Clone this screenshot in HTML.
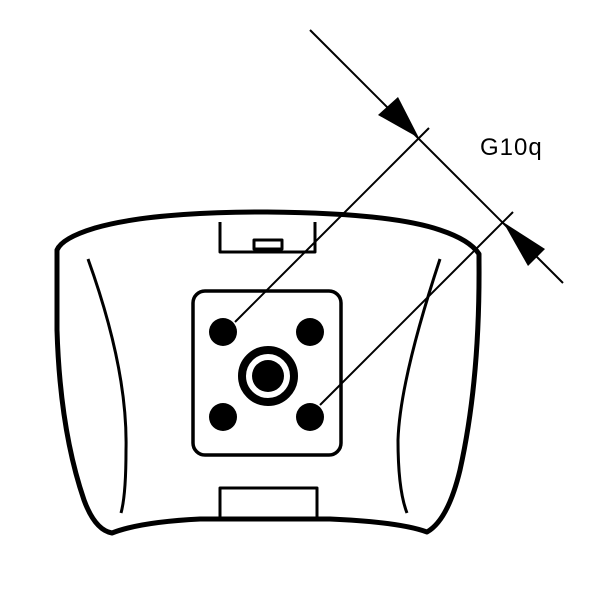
<!DOCTYPE html>
<html><head><style>html,body{margin:0;padding:0;background:#fff}svg{display:block}</style></head>
<body>
<svg width="600" height="600" viewBox="0 0 600 600" xmlns="http://www.w3.org/2000/svg">
<rect width="600" height="600" fill="#fff"/>
<g fill="none" stroke="#000" stroke-linejoin="round">
<path d="M57,250 Q62,238 95,228 Q150,212 267,212 Q390,213 440,230 Q470,240 479,254 L479,262 Q480,380 460,470 Q448,520 427,532 Q400,522 330,519 L200,519 Q140,522 112,533 Q95,530 84,500 Q60,430 57,330 Z" stroke-width="5"/>
<path d="M88,259 Q128,370 126,450 Q126,495 121,513" stroke-width="3"/>
<path d="M440,259 Q400,380 398,440 Q398,490 407,513" stroke-width="3"/>
<path d="M220,222 L220,252 L315,252 L315,222" stroke-width="3"/>
<rect x="254" y="240" width="28" height="9" stroke-width="3"/>
<path d="M220,520 L220,488 L317,488 L317,520" stroke-width="3"/>
<rect x="193" y="291" width="148" height="164" rx="12" stroke-width="3.5"/>
<circle cx="268" cy="376" r="26" stroke-width="8"/>
</g>
<g fill="#000">
<circle cx="223" cy="332" r="14"/><circle cx="310" cy="332" r="14"/>
<circle cx="223" cy="417" r="14"/><circle cx="310" cy="417" r="14"/>
<circle cx="268" cy="376" r="16"/>
</g>
<g stroke="#000" stroke-width="2">
<line x1="310" y1="30" x2="563" y2="283"/>
<line x1="429" y1="128" x2="235" y2="322"/>
<line x1="513" y1="212" x2="320" y2="405"/>
</g>
<polygon points="419,138 378,115 398,97" fill="#000"/>
<polygon points="503,222 528,266 545,249" fill="#000"/>
<text x="480" y="155" font-family="Liberation Sans, sans-serif" font-size="24" letter-spacing="1">G10q</text>
</svg>
</body></html>
